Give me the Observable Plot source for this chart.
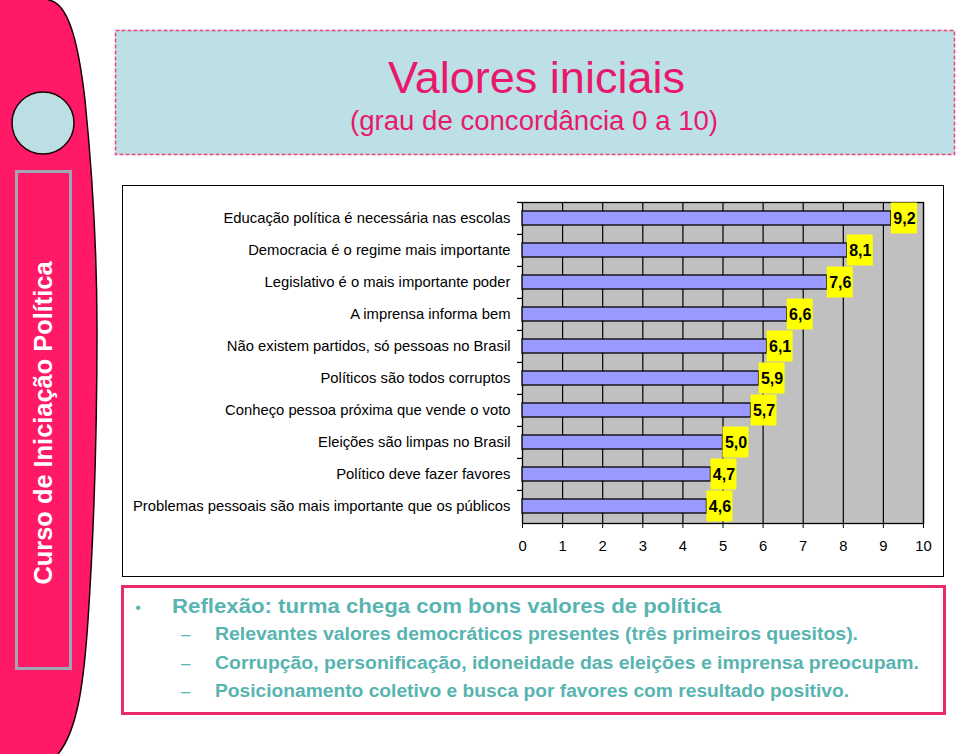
<!DOCTYPE html>
<html>
<head>
<meta charset="utf-8">
<script src="https://cdn.jsdelivr.net/npm/d3@7"></script>
<script src="https://cdn.jsdelivr.net/npm/@observablehq/plot@0.6"></script>
<style>
  html, body { margin: 0; padding: 0; }
  body { width: 960px; height: 754px; position: relative; overflow: hidden; background: #fff;
         font-family: "Liberation Sans", Arial, sans-serif; }
  #bg { position: absolute; left: 0; top: 0; }
  #chart { position: absolute; left: 122px; top: 185px; width: 822px; height: 392px; }
  #chart svg { display: block; }
</style>
</head>
<body>
<svg id="bg" width="960" height="754" xmlns="http://www.w3.org/2000/svg" font-family="Liberation Sans, Arial, sans-serif">
  <!-- left decorative band -->
  <path d="M0,0 H48 C68,2 78,40 85,100 C92,170 97,250 97,330 C97,450 92,560 88,620 C84,680 78,730 58,754 H0 Z" fill="#FF1966"/>
  <path d="M48,0 C68,2 78,40 85,100 C92,170 97,250 97,330 C97,450 92,560 88,620 C84,680 78,730 58,754" fill="none" stroke="#1a0008" stroke-width="1.5"/>
  <ellipse cx="43" cy="123" rx="31" ry="31" fill="#BCDFE3" stroke="#1a0008" stroke-width="1.5"/>
  <rect x="16.5" y="171.5" width="54" height="497" fill="none" stroke="#9EA7B3" stroke-width="3"/>
  <text id="sideText" transform="translate(52,423) rotate(-90)" text-anchor="middle" fill="#fff" font-weight="bold" font-size="25" textLength="323" lengthAdjust="spacingAndGlyphs">Curso de Iniciação Política</text>

  <!-- title box -->
  <rect x="115.5" y="30.5" width="839" height="124" fill="#BCE0E5" stroke="#E8457F" stroke-width="1.5" stroke-dasharray="4 2"/>
  <text id="t1" x="536.5" y="93" text-anchor="middle" fill="#E8196B" font-size="45" textLength="297" lengthAdjust="spacingAndGlyphs"></text>
  <text id="t2" x="534" y="130" text-anchor="middle" fill="#E8196B" font-size="27" textLength="368" lengthAdjust="spacingAndGlyphs"></text>

  <!-- chart box -->
  <rect x="122.5" y="185.5" width="821" height="391" fill="#fff" stroke="#000" stroke-width="1"/>

  <!-- bottom box -->
  <rect x="122.5" y="586.5" width="822" height="127" fill="#fff" stroke="#E8296E" stroke-width="3"/>
  <g id="notes" fill="#58B4B0" font-weight="bold"></g>
</svg>
<div id="chart"></div>
<script>
// ---- chart data ----
const categories = [
  "Educação política é necessária nas escolas",
  "Democracia é o regime mais importante",
  "Legislativo é o mais importante poder",
  "A imprensa informa bem",
  "Não existem partidos, só pessoas no Brasil",
  "Políticos são todos corruptos",
  "Conheço pessoa próxima que vende o voto",
  "Eleições são limpas no Brasil",
  "Político deve fazer favores",
  "Problemas pessoais são mais importante que os públicos"
];
const values = [9.2, 8.1, 7.6, 6.6, 6.1, 5.9, 5.7, 5.0, 4.7, 4.6];
const xTicks = [0, 1, 2, 3, 4, 5, 6, 7, 8, 9, 10];

// ---- texts ----
const title = "Valores iniciais";
const subtitle = "(grau de concordância 0 a 10)";
const noteHead = "Reflexão: turma chega com bons valores de política";
const noteItems = [
  "Relevantes valores democráticos presentes (três primeiros quesitos).",
  "Corrupção, personificação, idoneidade das eleições e imprensa preocupam.",
  "Posicionamento coletivo e busca por favores com resultado positivo."
];

document.getElementById("t1").textContent = title;
document.getElementById("t2").textContent = subtitle;

const NS = "http://www.w3.org/2000/svg";
const notes = document.getElementById("notes");
function addText(parent, str, attrs) {
  const t = document.createElementNS(NS, "text");
  for (const k in attrs) t.setAttribute(k, attrs[k]);
  t.textContent = str;
  parent.appendChild(t);
  return t;
}
addText(notes, "•", {x: 138, y: 613, "text-anchor": "middle", "font-size": 16, "font-weight": "normal"});
addText(notes, noteHead, {x: 172, y: 613, "font-size": 20, textLength: 549, lengthAdjust: "spacingAndGlyphs"});
const itemBaselines = [640, 669, 697];
const itemLengths = [643, 704, 634];
noteItems.forEach((s, i) => {
  addText(notes, "–", {x: 181, y: itemBaselines[i], "font-size": 17, "font-weight": "normal"});
  addText(notes, s, {x: 215, y: itemBaselines[i], "font-size": 17.5, textLength: itemLengths[i], lengthAdjust: "spacingAndGlyphs"});
});

// ---- plot ----
const data = categories.map((c, i) => ({category: c, value: values[i]}));
const W = 822, H = 392, mt = 17, mb = 54, ml = 400, mr = 21;
const step = (H - mt - mb) / categories.length;
const fmt = v => v.toFixed(1).replace(".", ",");

const plot = Plot.plot({
  width: W,
  height: H,
  marginTop: mt,
  marginBottom: mb,
  marginLeft: ml,
  marginRight: mr,
  style: {
    fontFamily: "Liberation Sans, Arial, sans-serif",
    fontSize: "14.8px",
    background: "transparent",
    color: "#000",
    overflow: "visible"
  },
  x: {domain: [0, 10], ticks: xTicks, tickSize: 5, tickPadding: 12, tickFormat: d => String(d), label: null},
  y: {domain: categories, paddingInner: 0.56, paddingOuter: 0.28, tickSize: 0, tickPadding: 12, label: null},
  marks: [
    Plot.frame({fill: "#C0C0C0", stroke: null}),
    Plot.ruleX(xTicks.slice(1), {stroke: "#000", strokeWidth: 1.2}),
    Plot.frame({stroke: "#000", strokeWidth: 1.3}),
    Plot.ruleY(categories, {x1: -0.125, x2: 0, dy: -step / 2, stroke: "#000", strokeWidth: 1.3}),
    Plot.barX(data, {x: "value", y: "category", fill: "#9999FF", stroke: "#000", strokeWidth: 1.3}),
    Plot.barX(data, {x1: "value", x2: "value", y: "category", fill: "#FFFF00", insetRight: -26, insetTop: -8.5, insetBottom: -8.5}),
    Plot.text(data, {x: "value", y: "category", text: d => fmt(d.value), dx: 13, fontWeight: "bold", fontSize: 16, fill: "#000"})
  ]
});
document.getElementById("chart").appendChild(plot);
</script>
</body>
</html>
